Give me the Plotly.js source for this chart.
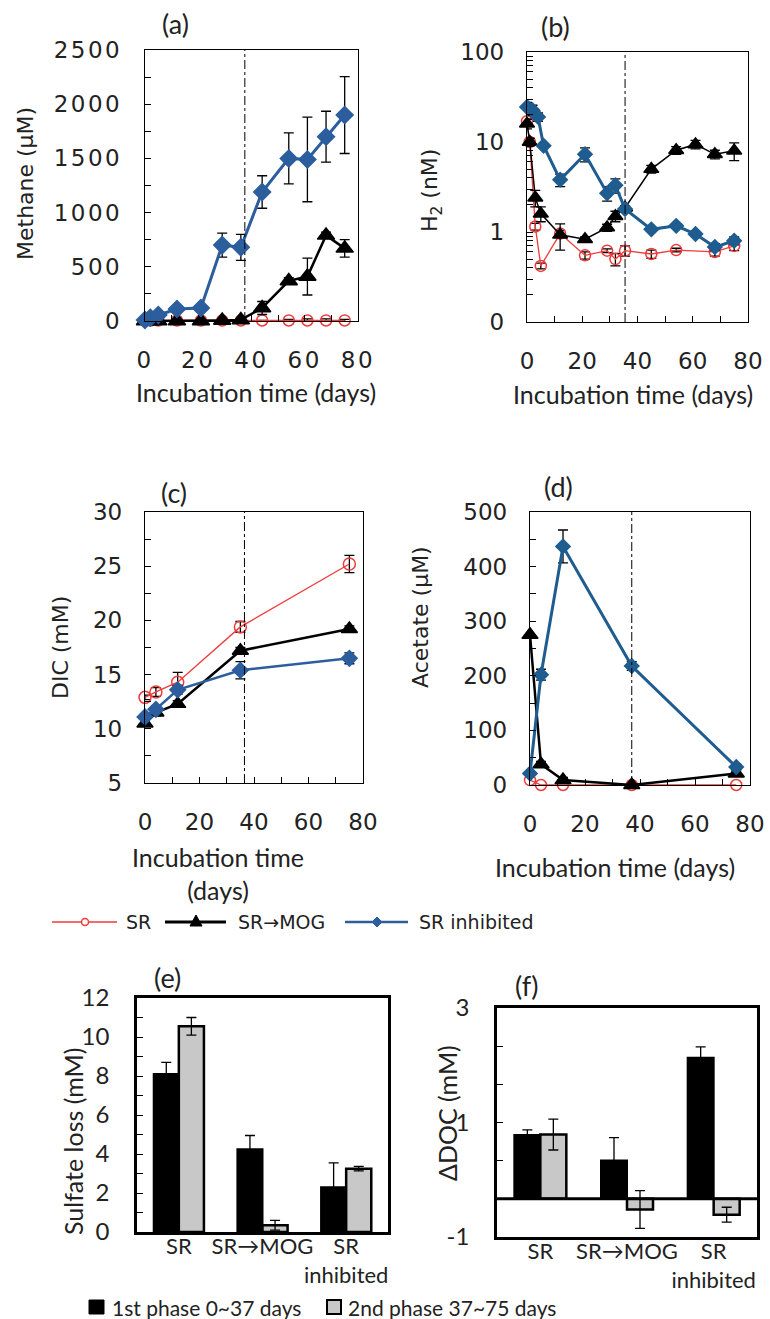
<!DOCTYPE html>
<html><head><meta charset="utf-8">
<script src="https://cdn.plot.ly/plotly-3.0.1.min.js"></script>
<style>
html,body{margin:0;padding:0;background:#fff}
.xy .xtick text, .xy .ytick text, .x2y2 .xtick text, .x2y2 .ytick text,
.x3y3 .xtick text, .x3y3 .ytick text, .x4y4 .xtick text, .x4y4 .ytick text { letter-spacing: 2.5px; }
</style>
</head><body><div id="chart" style="width:770px;height:1319px"></div>
<script>
// ---------- DATA ----------
// (a) Methane (uM)
const tA = [0, 2, 5, 12, 21, 29, 36, 44, 54, 61, 68, 75];
const methaneSR = [5, 5, 5, 5, 5, 5, 5, 5, 5, 5, 5, 5];
const methaneSRerr = [0, 0, 0, 0, 0, 0, 0, 0, 10, 15, 15, 10];
const methaneMOG = [0, 0, 0, 0, 0, 5, 10, 120, 370, 410, 790, 670];
const methaneMOGerr = [0, 0, 0, 0, 0, 0, 0, 60, 30, 170, 30, 80];
const methaneInh = [10, 30, 55, 110, 120, 700, 680, 1190, 1500, 1490, 1700, 1900];
const methaneInhErr = [5, 5, 5, 10, 10, 110, 120, 150, 235, 390, 235, 355];

// (b) H2 (nM)
const tB_SR = [0, 1, 3, 5, 12, 21, 29, 32, 35.5, 45, 54, 68, 75];
const h2SR = [17, 10, 1.15, 0.42, 0.96, 0.55, 0.62, 0.5, 0.62, 0.57, 0.63, 0.6, 0.7];
const h2SRerr = [1, 0.5, 0.1, 0.03, 0.08, 0.05, 0.03, 0.08, 0.08, 0.06, 0.03, 0.06, 0.08];
const tB_MOG = [0, 1, 3, 5, 12, 21, 29, 32, 35.5, 45, 54, 61, 68, 75];
const h2MOG = [16, 10, 2.4, 1.6, 0.93, 0.83, 1.12, 1.5, 1.86, 5.0, 8.1, 9.4, 7.3, 8.0];
const h2MOGerr = [2, 1, 0.5, 0.3, 0.3, 0.05, 0.1, 0.2, 0.1, 0.5, 0.8, 1.0, 0.8, 1.8];
const tB_Inh = [0, 2, 4, 6, 12, 21, 29, 32, 35.5, 45, 54, 61, 68, 75];
const h2Inh = [24.5, 22.6, 19, 9.1, 3.8, 7.3, 2.7, 3.3, 1.8, 1.07, 1.17, 0.95, 0.68, 0.8];
const h2InhErr = [3, 3, 2, 0.5, 0.6, 1.3, 0.5, 0.6, 0.1, 0.05, 0.05, 0.05, 0.06, 0.08];

// (c) DIC (mM)
const tC = [0, 4, 12, 35, 75];
const dicSR = [12.9, 13.4, 14.3, 19.4, 25.2];
const dicSRerr = [0.2, 0.4, 0.9, 0.5, 0.8];
const dicMOG = [10.5, 11.5, 12.3, 17.2, 19.2];
const dicMOGerr = [0.2, 0.3, 0.3, 0.3, 0.3];
const dicInh = [11.1, 11.8, 13.6, 15.4, 16.5];
const dicInhErr = [0.2, 0.3, 0.4, 0.8, 0.5];

// (d) Acetate (uM)
const tD = [0, 4, 12, 37, 75];
const acSR = [9, 0, 0, 0, 0];
const acMOG = [275, 38, 9, 0, 21];
const acMOGerr = [0, 5, 5, 0, 5];
const acInh = [21, 202, 437, 218, 33];
const acInhErr = [3, 10, 30, 8, 5];

// (e) Sulfate loss (mM), (f) dDOC (mM)
const categories = ["SR", "SR→MOG", "SR<br>inhibited"];
const sulfate1 = [8.1, 4.25, 2.3];
const sulfate1err = [0.6, 0.7, 1.25];
const sulfate2 = [10.55, 0.35, 3.25];
const sulfate2err = [0.45, 0.25, 0.12];
const doc1 = [0.78, 0.335, 2.13];
const doc1err = [0.09, 0.4, 0.19];
const doc2 = [0.79, -0.52, -0.61];
const doc2err = [0.27, 0.33, 0.13];
const docCrossing = -1 / 3;   // horizontal axis crossing value in (f)

// phase boundary (day) dash-dot lines
const boundaryA = 37.5, boundaryB = 35.5, boundaryC = 36.5, boundaryD = 37;

// tick labels
const dayTicks = [0, 10, 20, 30, 40, 50, 60, 70, 80];
const dayTickText = ["0", "", "20", "", "40", "", "60", "", "80"];
const methaneTicks = [0, 250, 500, 750, 1000, 1250, 1500, 1750, 2000, 2250, 2500];
const methaneTickText = ["0", "", "500", "", "1000", "", "1500", "", "2000", "", "2500"];
const h2Ticks = [0.1,0.2,0.3,0.4,0.5,0.6,0.7,0.8,0.9,1,2,3,4,5,6,7,8,9,10,20,30,40,50,60,70,80,90,100];
const h2TickText = h2Ticks.map(v => v === 0.1 ? "0" : (v === 1 || v === 10 || v === 100) ? String(v) : "");
const dicTicks = [5, 7.5, 10, 12.5, 15, 17.5, 20, 22.5, 25, 27.5, 30];
const dicTickText = ["5", "", "10", "", "15", "", "20", "", "25", "", "30"];
const acTicks = [0, 50, 100, 150, 200, 250, 300, 350, 400, 450, 500];
const acTickText = ["0", "", "100", "", "200", "", "300", "", "400", "", "500"];
const sulTicks = [0, 1, 2, 3, 4, 5, 6, 7, 8, 9, 10, 11, 12];
const sulTickText = ["0", "", "2", "", "4", "", "6", "", "8", "", "10", "", "12"];
const docTicks = [-1, -1/3, 1/3, 1, 5/3, 7/3, 3];
const docTickText = ["-1", "", "", "1", "", "", "3"];

// ---------- STYLE ----------
const W = 770, H = 1319;
const px = x => x / W;
const py = y => 1 - y / H;
const RED = '#EE3B3B', BLACK = '#000000', BLUE = '#2C5E9E', BLUE2 = '#1F5C8F', GREY = '#C8C8C8';
const NUM = 'DejaVu Sans', TXT = 'Lato';

function err(arr) {
  return {type: 'data', array: arr, visible: true, color: '#000', thickness: 1.3, width: 5};
}
function line(x, y, e, color, width, symbol, size, xa, ya, mline) {
  return {
    type: 'scatter', mode: 'lines+markers', x: x, y: y, xaxis: xa, yaxis: ya,
    line: {color: color, width: width},
    marker: {symbol: symbol, size: size, color: symbol === 'circle-open' ? RED : color,
             line: {color: color, width: mline || 1.5}},
    error_y: e ? err(e) : {visible: false},
    cliponaxis: false, showlegend: false
  };
}

const traces = [
  // (a)
  line(tA, methaneSR, methaneSRerr, RED, 1.5, 'circle-open', 11, 'x', 'y'),
  line(tA, methaneMOG, methaneMOGerr, BLACK, 2.5, 'triangle-up', 15, 'x', 'y'),
  line(tA, methaneInh, methaneInhErr, BLUE, 3, 'diamond', 13, 'x', 'y'),
  // (b)
  line(tB_SR, h2SR, h2SRerr, RED, 1.3, 'circle-open', 11, 'x2', 'y2'),
  line(tB_MOG, h2MOG, h2MOGerr, BLACK, 1.5, 'triangle-up', 13, 'x2', 'y2'),
  line(tB_Inh, h2Inh, h2InhErr, BLUE2, 3, 'diamond', 11, 'x2', 'y2'),
  // (c)
  line(tC, dicSR, dicSRerr, RED, 1.3, 'circle-open', 12, 'x3', 'y3'),
  line(tC, dicMOG, dicMOGerr, BLACK, 2.5, 'triangle-up', 14, 'x3', 'y3'),
  line(tC, dicInh, dicInhErr, BLUE, 2.5, 'diamond', 12, 'x3', 'y3'),
  // (d)
  line(tD, acSR, null, RED, 1.3, 'circle-open', 11, 'x4', 'y4'),
  line(tD, acMOG, acMOGerr, BLACK, 2.5, 'triangle-up', 14, 'x4', 'y4'),
  line(tD, acInh, acInhErr, BLUE2, 3, 'diamond', 11, 'x4', 'y4'),
  // (e)
  {type: 'bar', x: categories, y: sulfate1, xaxis: 'x5', yaxis: 'y5', name: '1st phase 0~37 days',
   marker: {color: BLACK, line: {color: BLACK, width: 2}}, error_y: err(sulfate1err), showlegend: false},
  {type: 'bar', x: categories, y: sulfate2, xaxis: 'x5', yaxis: 'y5', name: '2nd phase 37~75 days',
   marker: {color: GREY, line: {color: BLACK, width: 2.5}}, error_y: err(sulfate2err), showlegend: false},
  // (f)
  {type: 'bar', x: categories, y: doc1.map(v => v - docCrossing), base: docCrossing, xaxis: 'x6', yaxis: 'y6',
   marker: {color: BLACK, line: {color: BLACK, width: 2}}, error_y: err(doc1err), showlegend: false},
  {type: 'bar', x: categories, y: doc2.map(v => v - docCrossing), base: docCrossing, xaxis: 'x6', yaxis: 'y6',
   marker: {color: GREY, line: {color: BLACK, width: 2.5}}, error_y: err(doc2err), showlegend: false}
];

function xax(x0, x1, anchor, extra) {
  return Object.assign({
    domain: [px(x0), px(x1)], anchor: anchor, range: [0, 80],
    tickmode: 'array', tickvals: dayTicks, ticktext: dayTickText, tickangle: 0,
    ticks: 'inside', ticklen: 6, tickwidth: 1, tickcolor: '#000',
    showline: true, mirror: true, linecolor: '#000', linewidth: 1.2,
    showgrid: false, zeroline: false, ticklabelstandoff: 18,
    tickfont: {family: NUM, size: 23, color: '#222'}, fixedrange: true
  }, extra || {});
}
function yax(y0, y1, anchor, extra) {
  return Object.assign({
    domain: [py(y1), py(y0)], anchor: anchor,
    tickmode: 'array',
    ticks: 'inside', ticklen: 6, tickwidth: 1, tickcolor: '#000',
    showline: true, mirror: true, linecolor: '#000', linewidth: 1.2,
    showgrid: false, zeroline: false, ticklabelstandoff: 17,
    tickfont: {family: NUM, size: 23, color: '#222'}, fixedrange: true
  }, extra || {});
}

const barX = (x0, x1, anchor) => ({
  domain: [px(x0), px(x1)], anchor: anchor, type: 'category', tickangle: 0,
  showline: true, mirror: true, linecolor: '#000', linewidth: 2.8,
  ticks: '', showgrid: false, zeroline: false, ticklabelstandoff: -7,
  tickfont: {family: TXT, size: 22, color: '#222'}, fixedrange: true
});

const layout = {
  width: W, height: H, margin: {l: 0, r: 0, t: 0, b: 0},
  paper_bgcolor: '#fff', plot_bgcolor: '#fff', showlegend: false,
  barmode: 'group', bargap: 0.4, bargroupgap: 0,
  xaxis: xax(145, 358, 'y'),
  yaxis: yax(50, 321, 'x', {range: [0, 2500], tickvals: methaneTicks, ticktext: methaneTickText}),
  xaxis2: xax(527, 748, 'y2'),
  yaxis2: yax(52, 322, 'x2', {type: 'log', range: [-1, 2], tickvals: h2Ticks, ticktext: h2TickText}),
  xaxis3: xax(145, 363, 'y3'),
  yaxis3: yax(512, 783, 'x3', {range: [5, 30], tickvals: dicTicks, ticktext: dicTickText}),
  xaxis4: xax(530, 750, 'y4'),
  yaxis4: yax(512, 785, 'x4', {range: [0, 500], tickvals: acTicks, ticktext: acTickText}),
  xaxis5: barX(137, 388, 'y5'),
  yaxis5: yax(998, 1232, 'x5', {range: [0, 12], tickvals: sulTicks, ticktext: sulTickText, linewidth: 2.8,
    ticklabelstandoff: 20, tickfont: {family: TXT, size: 24, color: '#222'}}),
  xaxis6: barX(497, 757, 'y6'),
  yaxis6: yax(1008, 1237, 'x6', {range: [-1, 3], tickvals: docTicks, ticktext: docTickText, linewidth: 2.8,
    ticklabelstandoff: 20, tickfont: {family: TXT, size: 24, color: '#222'}}),
  shapes: [],
  annotations: []
};

// dash-dot phase lines
[['x', 'y', boundaryA], ['x2', 'y2', boundaryB], ['x3', 'y3', boundaryC], ['x4', 'y4', boundaryD]].forEach(([xa, ya, v]) => {
  layout.shapes.push({type: 'line', xref: xa, yref: ya + ' domain', x0: v, x1: v, y0: 0, y1: 1,
    line: {color: '#000', width: 1, dash: 'dashdot'}});
});
// thick category axis line in (f)
layout.shapes.push({type: 'line', xref: 'x6 domain', yref: 'y6', x0: 0, x1: 1, y0: docCrossing, y1: docCrossing,
  line: {color: '#000', width: 3}});

// manual legend (top)
const ly = 922;
layout.shapes.push({type: 'line', xref: 'paper', yref: 'paper', x0: px(52), x1: px(117), y0: py(ly), y1: py(ly), line: {color: RED, width: 1.5}});
layout.shapes.push({type: 'circle', xref: 'paper', yref: 'paper', xsizemode: 'pixel', ysizemode: 'pixel',
  xanchor: px(85), yanchor: py(ly), x0: -3.5, x1: 3.5, y0: -3.5, y1: 3.5, fillcolor: '#fff', line: {color: RED, width: 1.5}});
layout.shapes.push({type: 'line', xref: 'paper', yref: 'paper', x0: px(165), x1: px(226), y0: py(ly), y1: py(ly), line: {color: BLACK, width: 3}});
layout.shapes.push({type: 'path', xref: 'paper', yref: 'paper', xsizemode: 'pixel', ysizemode: 'pixel',
  xanchor: px(196), yanchor: py(ly), path: 'M -6,-4 L 6,-4 L 0,7 Z', fillcolor: BLACK, line: {color: BLACK, width: 1}});
layout.shapes.push({type: 'line', xref: 'paper', yref: 'paper', x0: px(345), x1: px(408), y0: py(ly), y1: py(ly), line: {color: BLUE, width: 2.5}});
layout.shapes.push({type: 'path', xref: 'paper', yref: 'paper', xsizemode: 'pixel', ysizemode: 'pixel',
  xanchor: px(377), yanchor: py(ly), path: 'M -5,0 L 0,5 L 5,0 L 0,-5 Z', fillcolor: BLUE, line: {color: BLUE, width: 1}});
// bottom legend squares
layout.shapes.push({type: 'rect', xref: 'paper', yref: 'paper', x0: px(89), x1: px(104), y0: py(1314), y1: py(1300), fillcolor: BLACK, line: {color: BLACK, width: 1}});
layout.shapes.push({type: 'rect', xref: 'paper', yref: 'paper', x0: px(327), x1: px(341), y0: py(1314), y1: py(1300), fillcolor: GREY, line: {color: BLACK, width: 2}});

function ann(text, x, y, opts) {
  layout.annotations.push(Object.assign({text: text, xref: 'paper', yref: 'paper', x: px(x), y: py(y),
    xanchor: 'center', yanchor: 'middle', showarrow: false, font: {family: TXT, size: 23, color: '#222'}}, opts || {}));
}
// legend texts
const LF = {family: NUM, size: 19, color: '#222'};
ann('SR', 124, ly, {xanchor: 'left', font: LF});
ann('SR→MOG', 236, ly, {xanchor: 'left', font: LF});
ann('SR inhibited', 417, ly, {xanchor: 'left', font: LF});
ann('1st phase 0~37 days', 110, 1307, {xanchor: 'left', font: {family: TXT, size: 21, color: '#222'}});
ann('2nd phase 37~75 days', 346, 1307, {xanchor: 'left', font: {family: TXT, size: 21, color: '#222'}});
// panel labels
const PL = {family: TXT, size: 27, color: '#222'};
ann('(a)', 175, 23, {font: PL});
ann('(b)', 555, 26, {font: PL});
ann('(c)', 174, 492, {font: PL});
ann('(d)', 558, 487, {font: PL});
ann('(e)', 167, 977, {font: PL});
ann('(f)', 527, 985, {font: PL});
// y-axis titles
const YT = {family: NUM, size: 22, color: '#222'};
ann('Methane (μM)', 25, 184, {textangle: -90, font: YT});
ann('H<sub>2</sub> (nM)', 431, 191, {textangle: -90, font: YT});
ann('DIC (mM)', 61, 648, {textangle: -90, font: YT});
ann('Acetate (μM)', 420, 617, {textangle: -90, font: YT});
ann('Sulfate loss (mM)', 73, 1142, {textangle: -90, font: {family: TXT, size: 25, color: '#222'}});
ann('ΔDOC (mM)', 447, 1113, {textangle: -90, font: {family: TXT, size: 25, color: '#222'}});
// x-axis titles
const XT = {family: TXT, size: 25, color: '#222'};
ann('Incubation time (days)', 256, 392, {font: XT});
ann('Incubation time (days)', 633, 394, {font: XT});
ann('Incubation time<br>(days)', 218, 873, {font: XT});
ann('Incubation time (days)', 615, 867, {font: XT});

Plotly.newPlot('chart', traces, layout, {staticPlot: true, displayModeBar: false});
</script></body></html>
